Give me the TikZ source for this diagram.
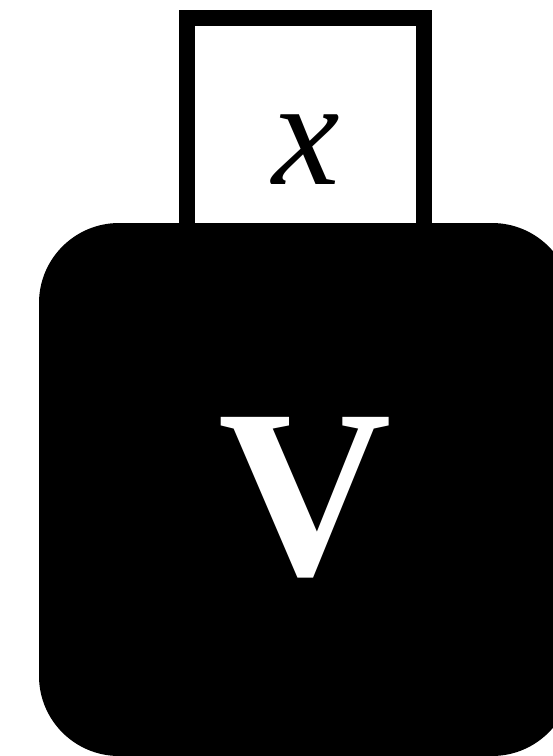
\documentclass[tikz,border=0pt]{standalone}
\usepackage{fontspec}
\setmainfont{Liberation Serif}
\usetikzlibrary{positioning}
\tikzset{
 slotbox/.style={draw=black, line width=16pt, fill=white, minimum width=237pt, minimum height=230pt, inner sep=0pt},
 blockbox/.style={fill=black, rounded corners=80pt, minimum size=533pt, inner sep=0pt}
}

\begin{document}
\begin{tikzpicture}[x=1pt,y=-1pt]
 \useasboundingbox (0,0) rectangle (553,756);
 \clip (0,0) rectangle (553,756);
 \node[slotbox] (slot) at (305.5,133) {};
 \node[blockbox] (block) at (305.5,489.5) {};
 \node[inner sep=0pt, font=\fontsize{152}{152}\selectfont\itshape] (xlabel) at (306,150) {x};
 \node[inner sep=0pt, text=white, font=\fontsize{240}{240}\selectfont\bfseries] (vlabel) at (305,497.5) {V};
\end{tikzpicture}
\end{document}
